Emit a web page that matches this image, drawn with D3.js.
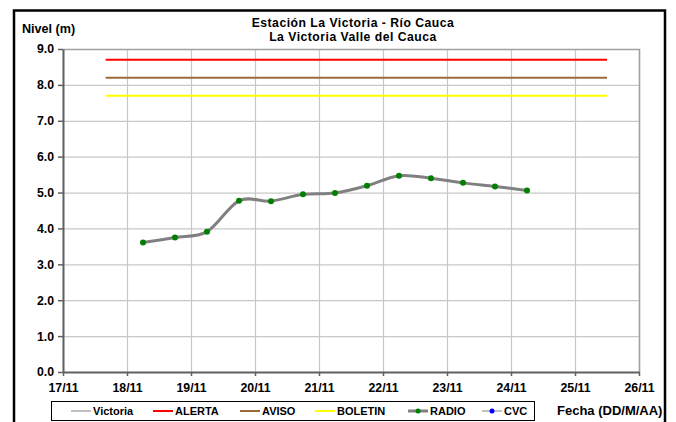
<!DOCTYPE html>
<html>
<head>
<meta charset="utf-8">
<script src="https://cdn.jsdelivr.net/npm/d3@7"></script>
<style>
  body { margin: 0; background: #fff; }
  text { font-family: "Liberation Sans", Arial, sans-serif; font-weight: bold; }
</style>
</head>
<body>
<div id="chart"></div>
<script>
// datos
var radioFechas = ["18/11 06", "18/11 18", "19/11 06", "19/11 18", "20/11 06", "20/11 18", "21/11 06",
                   "21/11 18", "22/11 06", "22/11 18", "23/11 06", "23/11 18", "24/11 06"];
var radioNivel = [3.61, 3.75, 3.91, 4.77, 4.76, 4.95, 4.99, 5.19, 5.47, 5.40, 5.27, 5.17, 5.06];
var umbralFechas = ["17/11 16", "25/11 12"];
var alerta = 8.7, aviso = 8.2, boletin = 7.7;
var yTicks = [0, 1, 2, 3, 4, 5, 6, 7, 8, 9];
var legendItems = ["Victoria", "ALERTA", "AVISO", "BOLETIN", "RADIO", "CVC"];

var parse = d3.timeParse("%d/%m %H");
var width = 676, height = 422;
var margin = {top: 49, right: 37, bottom: 50, left: 63};

var svg = d3.select("#chart").append("svg")
    .attr("width", width)
    .attr("height", height);

// borde exterior
svg.append("rect")
    .attr("x", 14).attr("y", 10.5)
    .attr("width", 651).attr("height", 420)
    .attr("fill", "none")
    .attr("stroke", "#000")
    .attr("stroke-width", 2.5);

var x = d3.scaleTime()
    .domain([parse("17/11 00"), parse("26/11 00")])
    .range([margin.left, width - margin.right]);
var y = d3.scaleLinear()
    .domain([0, 9])
    .range([height - margin.bottom, margin.top]);

var days = d3.timeDay.range(parse("17/11 00"), parse("26/11 01"));

// rejilla
var grid = svg.append("g");
grid.selectAll(".hg").data(yTicks).enter().append("line")
    .attr("x1", x.range()[0]).attr("x2", x.range()[1])
    .attr("y1", function(d) { return y(d) + 0.5; })
    .attr("y2", function(d) { return y(d) + 0.5; })
    .attr("stroke", "#c8c8c8").attr("stroke-width", 1.2);
grid.selectAll(".vg").data(days).enter().append("line")
    .attr("y1", y.range()[0]).attr("y2", y.range()[1])
    .attr("x1", function(d) { return Math.round(x(d)) + 0.5; })
    .attr("x2", function(d) { return Math.round(x(d)) + 0.5; })
    .attr("stroke", "#c8c8c8").attr("stroke-width", 1.2);

// borde del area de grafico
svg.append("path")
    .attr("d", "M" + x.range()[0] + "," + (y(9) + 0.5) + "H" + (x.range()[1] + 0.5) + "V" + y(0))
    .attr("fill", "none").attr("stroke", "#a0a0a0").attr("stroke-width", 1.5);

// ejes
var yAxis = svg.append("g")
    .attr("transform", "translate(" + x.range()[0] + ",0)")
    .call(d3.axisLeft(y).tickValues(yTicks).tickSize(5).tickSizeOuter(0).tickFormat(d3.format(".1f")));
var xAxis = svg.append("g")
    .attr("transform", "translate(0," + y(0) + ")")
    .call(d3.axisBottom(x).tickValues(days).tickSize(4).tickSizeOuter(0).tickFormat(d3.timeFormat("%d/%m")));

[yAxis, xAxis].forEach(function(a) {
  a.select(".domain").attr("stroke", "#606060").attr("stroke-width", 2);
  a.selectAll(".tick line").attr("stroke", "#606060").attr("stroke-width", 1.5);
  a.selectAll("text").attr("fill", "#000").style("font-size", "12.3px");
});
yAxis.selectAll("text").attr("x", -9);
xAxis.selectAll("text").attr("y", 11);

// umbrales
var umbrales = [{v: alerta, c: "#ff0000"}, {v: aviso, c: "#9c6a3c"}, {v: boletin, c: "#ffff00"}];
svg.selectAll(".umbral").data(umbrales).enter().append("line")
    .attr("x1", x(parse(umbralFechas[0]))).attr("x2", x(parse(umbralFechas[1])))
    .attr("y1", function(d) { return y(d.v); })
    .attr("y2", function(d) { return y(d.v); })
    .attr("stroke", function(d) { return d.c; })
    .attr("stroke-width", 2);

// serie RADIO
var radio = radioFechas.map(function(f, i) { return {t: parse(f), v: radioNivel[i]}; });
var line = d3.line()
    .x(function(d) { return x(d.t); })
    .y(function(d) { return y(d.v); })
    .curve(d3.curveCardinal.tension(0));
svg.append("path")
    .datum(radio)
    .attr("d", line)
    .attr("fill", "none")
    .attr("stroke", "#808080")
    .attr("stroke-width", 3);
svg.selectAll(".pt").data(radio).enter().append("circle")
    .attr("cx", function(d) { return x(d.t); })
    .attr("cy", function(d) { return y(d.v); })
    .attr("r", 3)
    .attr("fill", "#008000");

// titulos
svg.append("text").attr("x", 353).attr("y", 27).attr("text-anchor", "middle")
    .style("font-size", "12.2px").style("letter-spacing", "0.5px")
    .text("Estación La Victoria - Río Cauca");
svg.append("text").attr("x", 353).attr("y", 41).attr("text-anchor", "middle")
    .style("font-size", "12.2px").style("letter-spacing", "0.5px")
    .text("La Victoria Valle del Cauca");
svg.append("text").attr("x", 22).attr("y", 33)
    .style("font-size", "12.6px").text("Nivel (m)");
svg.append("text").attr("x", 557).attr("y", 415)
    .style("font-size", "13px").text("Fecha (DD/M/AA)");

// leyenda
svg.append("rect")
    .attr("x", 51.5).attr("y", 401.5).attr("width", 483).attr("height", 19)
    .attr("fill", "#fff").attr("stroke", "#000").attr("stroke-width", 1);
var legX = [71, 153, 240, 315, 408, 482];
var legCol = ["#c0c0c0", "#ff0000", "#9c6a3c", "#ffff00", "#808080", "#c0c0c0"];
var legDot = [null, null, null, null, "#008000", "#0000ff"];
var leg = svg.selectAll(".leg").data(legendItems).enter().append("g")
    .attr("transform", function(d, i) { return "translate(" + legX[i] + ",411)"; });
leg.append("line")
    .attr("x1", 0).attr("x2", 20).attr("y1", 0).attr("y2", 0)
    .attr("stroke", function(d, i) { return legCol[i]; })
    .attr("stroke-width", function(d, i) { return i == 4 ? 3 : 2; });
leg.filter(function(d, i) { return legDot[i]; }).append("circle")
    .attr("cx", 10).attr("cy", 0).attr("r", 2.5)
    .attr("fill", function(d) { return legDot[legendItems.indexOf(d)]; });
leg.append("text")
    .attr("x", 22).attr("y", 4)
    .style("font-size", "11px")
    .text(function(d) { return d; });
</script>
</body>
</html>
